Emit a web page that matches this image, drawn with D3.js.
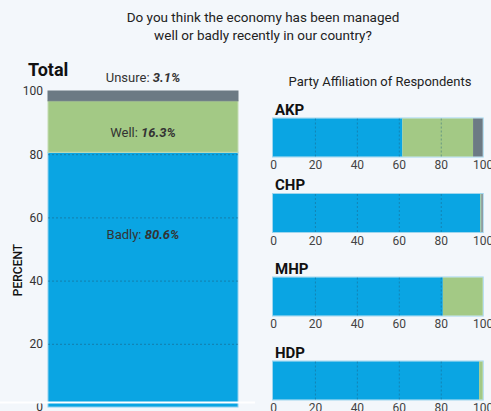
<!DOCTYPE html>
<html>
<head>
<meta charset="utf-8">
<script src="https://cdn.jsdelivr.net/npm/d3@7"></script>
<style>
  body { margin: 0; background: #f3f7fb; }
  svg { display: block; font-family: Roboto, "Liberation Sans", sans-serif; }
</style>
</head>
<body>
<div id="chart"></div>
<script>
// Data
const categories = ["Badly", "Well", "Unsure"];
const totalValues = [80.6, 16.3, 3.1];
const parties = ["AKP", "CHP", "MHP", "HDP"];
const badly = [61.7, 98.9, 81.0, 98.3];
const well = [33.7, 0.5, 19.0, 1.7];
const unsure = [4.6, 0.6, 0, 0];
const tickValues = [0, 20, 40, 60, 80, 100];

const width = 491, height = 411;
const colors = { Badly: "#0aa5e3", Well: "#a3c985", Unsure: "#6c7a84" };
const edge = { Badly: "#8fd0ee", Well: "#c4dcb2", Unsure: "#6c7a84" };

const svg = d3.select("#chart").append("svg")
    .attr("width", width)
    .attr("height", height);

// Title
svg.append("text")
    .attr("x", 263).attr("y", 22)
    .attr("text-anchor", "middle")
    .style("font-size", "13.5px").attr("fill", "#222")
    .selectAll("tspan")
    .data(["Do you think the economy has been managed", "well or badly recently in our country?"])
    .join("tspan")
      .attr("x", 263)
      .attr("dy", (d, i) => i ? 18 : 0)
      .text(d => d);

// ---- Total bar ----
const y = d3.scaleLinear().domain([0, 100]).range([407, 91]);
const xTot = [48, 238];

const totalRow = {};
categories.forEach((c, i) => totalRow[c] = totalValues[i]);
const totalStack = d3.stack().keys(categories)([totalRow]);

svg.append("text")
    .attr("x", 28).attr("y", 76)
    .style("font-size", "18px").style("font-weight", "bold")
    .attr("fill", "#111")
    .text("Total");

svg.append("g")
  .selectAll("rect")
  .data(totalStack)
  .join("rect")
    .attr("x", xTot[0])
    .attr("width", xTot[1] - xTot[0])
    .attr("y", d => y(d[0][1]))
    .attr("height", d => y(d[0][0]) - y(d[0][1]))
    .attr("fill", d => colors[d.key])
    .attr("stroke", d => edge[d.key])
    .attr("stroke-width", 1);

// dashed gridlines
svg.append("g")
  .selectAll("line")
  .data(tickValues.filter(t => t > 0 && t < 100))
  .join("line")
    .attr("x1", xTot[0]).attr("x2", xTot[1])
    .attr("y1", d => y(d) + 0.5).attr("y2", d => y(d) + 0.5)
    .attr("stroke", "#1d5e7e").attr("stroke-opacity", 0.55)
    .attr("stroke-dasharray", "2,2");

const yAxis = svg.append("g")
    .attr("transform", "translate(44,0)")
    .call(d3.axisLeft(y).tickValues(tickValues).tickSize(0).tickPadding(1));
yAxis.select(".domain").remove();
yAxis.selectAll("text")
    .style("font-size", "12px").style("font-family", "Roboto, sans-serif")
    .attr("fill", "#333");

svg.append("line")
    .attr("x1", 0).attr("x2", 255)
    .attr("y1", 402.5).attr("y2", 402.5)
    .attr("stroke", "#fff").attr("stroke-width", 2);

svg.append("text")
    .attr("transform", "translate(22,270) rotate(-90)")
    .attr("text-anchor", "middle")
    .style("font-size", "12px").style("font-weight", "500")
    .attr("fill", "#111")
    .text("PERCENT");

// segment labels (label anchor values chosen to match the picture)
const labelAt = { Badly: 54.5, Well: 86.8, Unsure: 104.3 };
const segLabels = svg.append("g")
  .selectAll("text")
  .data(totalStack)
  .join("text")
    .attr("x", (xTot[0] + xTot[1]) / 2)
    .attr("y", d => y(labelAt[d.key]))
    .attr("dy", "0.35em")
    .attr("text-anchor", "middle")
    .style("font-size", "13px")
    .attr("fill", "#333");
segLabels.append("tspan").text(d => d.key + ": ");
segLabels.append("tspan")
    .style("font-weight", "bold").style("font-style", "italic")
    .text(d => d[0].data[d.key] + "%");

// ---- Party panels ----
svg.append("text")
    .attr("x", 380).attr("y", 86)
    .attr("text-anchor", "middle")
    .style("font-size", "13px").attr("fill", "#222")
    .text("Party Affiliation of Respondents");

const x = d3.scaleLinear().domain([0, 100]).range([273, 482.7]);
const panelTop = [118.5, 194, 277.5, 361.5];
const barH = 38;

const partyRows = parties.map((p, i) => ({ party: p, Badly: badly[i], Well: well[i], Unsure: unsure[i] }));
const partyStack = d3.stack().keys(categories)(partyRows);

const panels = svg.selectAll("g.panel")
  .data(partyRows)
  .join("g")
    .attr("class", "panel")
    .attr("transform", (d, i) => `translate(0,${panelTop[i]})`);

panels.append("text")
    .attr("x", 275).attr("y", -4)
    .style("font-size", "15px").style("font-weight", "bold")
    .attr("fill", "#111")
    .text(d => d.party);

panels.append("rect")
    .attr("x", x(0) - 0.5).attr("y", -0.5)
    .attr("width", x(100) - x(0) + 1).attr("height", barH + 1)
    .attr("fill", "none").attr("stroke", "#9fd6ee");

panels.each(function(row, i) {
  const g = d3.select(this);
  g.selectAll("rect.seg")
    .data(partyStack.map(s => ({ key: s.key, v: s[i] })))
    .join("rect")
      .attr("class", "seg")
      .attr("x", d => x(d.v[0]))
      .attr("width", d => x(d.v[1]) - x(d.v[0]))
      .attr("y", 0).attr("height", barH)
      .attr("fill", d => colors[d.key]);

  g.selectAll("line.grid")
    .data(tickValues.filter(t => t > 0 && t < 100))
    .join("line")
      .attr("class", "grid")
      .attr("x1", d => x(d) + 0.5).attr("x2", d => x(d) + 0.5)
      .attr("y1", 0).attr("y2", barH)
      .attr("stroke", "#1d5e7e").attr("stroke-opacity", 0.45)
      .attr("stroke-dasharray", "2,2");

  const ax = g.append("g")
      .attr("transform", `translate(0,${barH})`)
      .call(d3.axisBottom(x).tickValues(tickValues).tickSize(0).tickPadding(4));
  ax.select(".domain").remove();
  ax.selectAll("text")
      .style("font-size", "12px").style("font-family", "Roboto, sans-serif")
      .attr("fill", "#444");
});
</script>
</body>
</html>
